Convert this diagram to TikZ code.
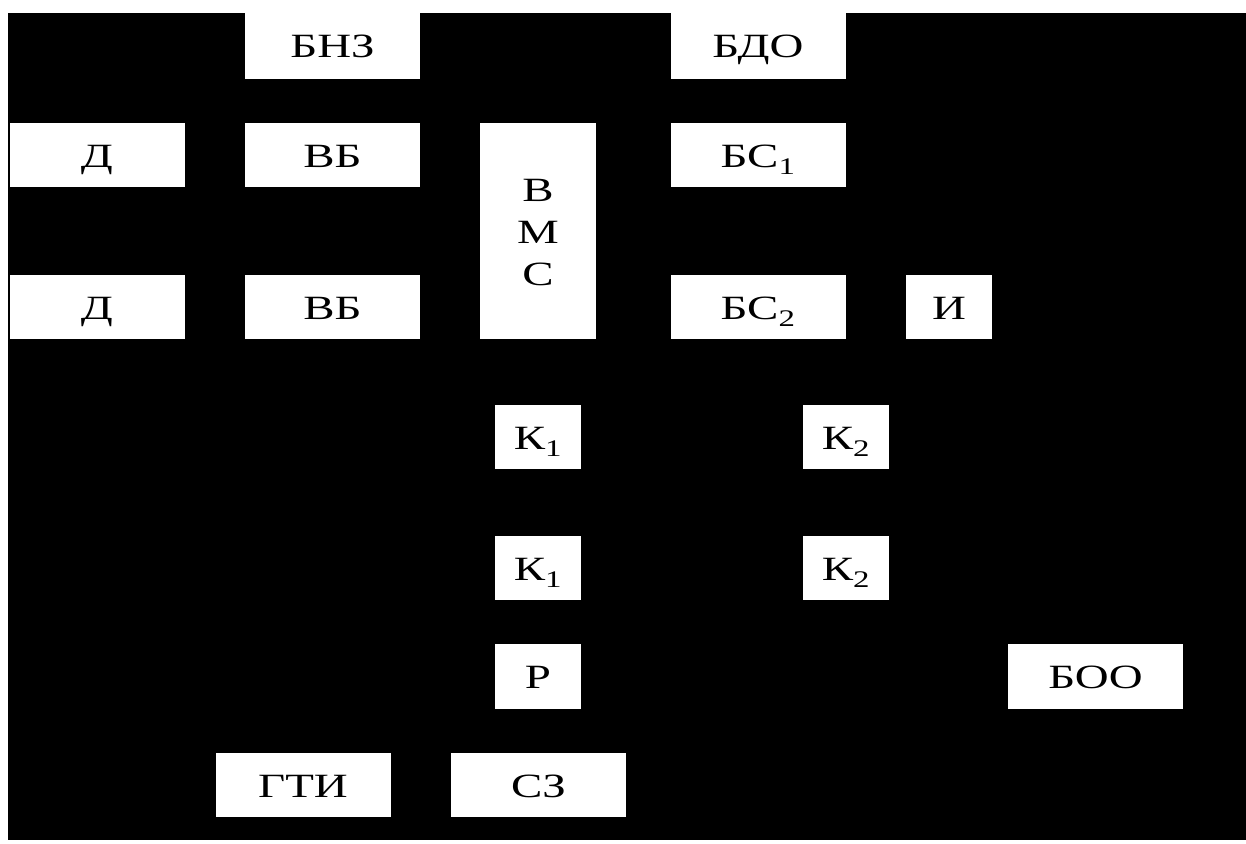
\documentclass[tikz,border=0pt]{standalone}
\usepackage{fontspec}
\setmainfont{Liberation Serif}
\newfontfamily\boxfont[FakeStretch=1.38]{Liberation Serif}
\begin{document}
\begin{tikzpicture}[x=1pt,y=-1pt,
  blk/.style={fill=white,draw=none,inner sep=0pt,minimum height=64pt,
    text height=24pt,text depth=0pt,
    font=\boxfont\fontsize{34}{42}\selectfont,text=black},
  wide/.style={blk,minimum width=175pt},
  narrow/.style={blk,minimum width=86pt}]
  % canvas with white margins and black field
  \fill[white] (0,0) rectangle (1246,843);
  \fill[black] (8,13) rectangle (1246,840);
  \useasboundingbox (0,0) rectangle (1246,843);

  % upper row
  \node[wide,minimum height=66pt] (bnz) at (332.5,46) {БНЗ};
  \node[wide,minimum height=66pt] (bdo) at (758,46) {БДО};

  % input channels
  \node[wide] (d1) at (97,155) {Д};
  \node[wide] (vb1) at (332.5,155) {ВБ};
  \node[wide] (d2) at (97,307) {Д};
  \node[wide] (vb2) at (332.5,307) {ВБ};

  % switch, its letters set one below another
  \node[blk,minimum width=116pt,minimum height=216pt] (vms) at (538,231) {};
  \node[font=\boxfont\fontsize{34}{42}\selectfont,align=center,anchor=base,inner sep=0pt]
    (vmslbl) at (538,285) {В\\М\\С};

  % synchronisation
  \node[wide] (bs1) at (758,155) {БС\textsubscript{1}};
  \node[wide] (bs2) at (758,307) {БС\textsubscript{2}};
  \node[narrow] (ind) at (949,307) {И};

  % keys
  \node[narrow] (k1a) at (538,437) {К\textsubscript{1}};
  \node[narrow] (k2a) at (846,437) {К\textsubscript{2}};
  \node[narrow] (k1b) at (538,568) {К\textsubscript{1}};
  \node[narrow] (k2b) at (846,568) {К\textsubscript{2}};
  \node[narrow,minimum height=65pt] (reg) at (538,676.5) {Р};
  \node[wide,minimum height=65pt] (boo) at (1095.5,676.5) {БОО};

  % bottom row
  \node[wide] (gti) at (303,785) {ГТИ};
  \node[wide] (sz) at (538.5,785) {СЗ};
\end{tikzpicture}
\end{document}
